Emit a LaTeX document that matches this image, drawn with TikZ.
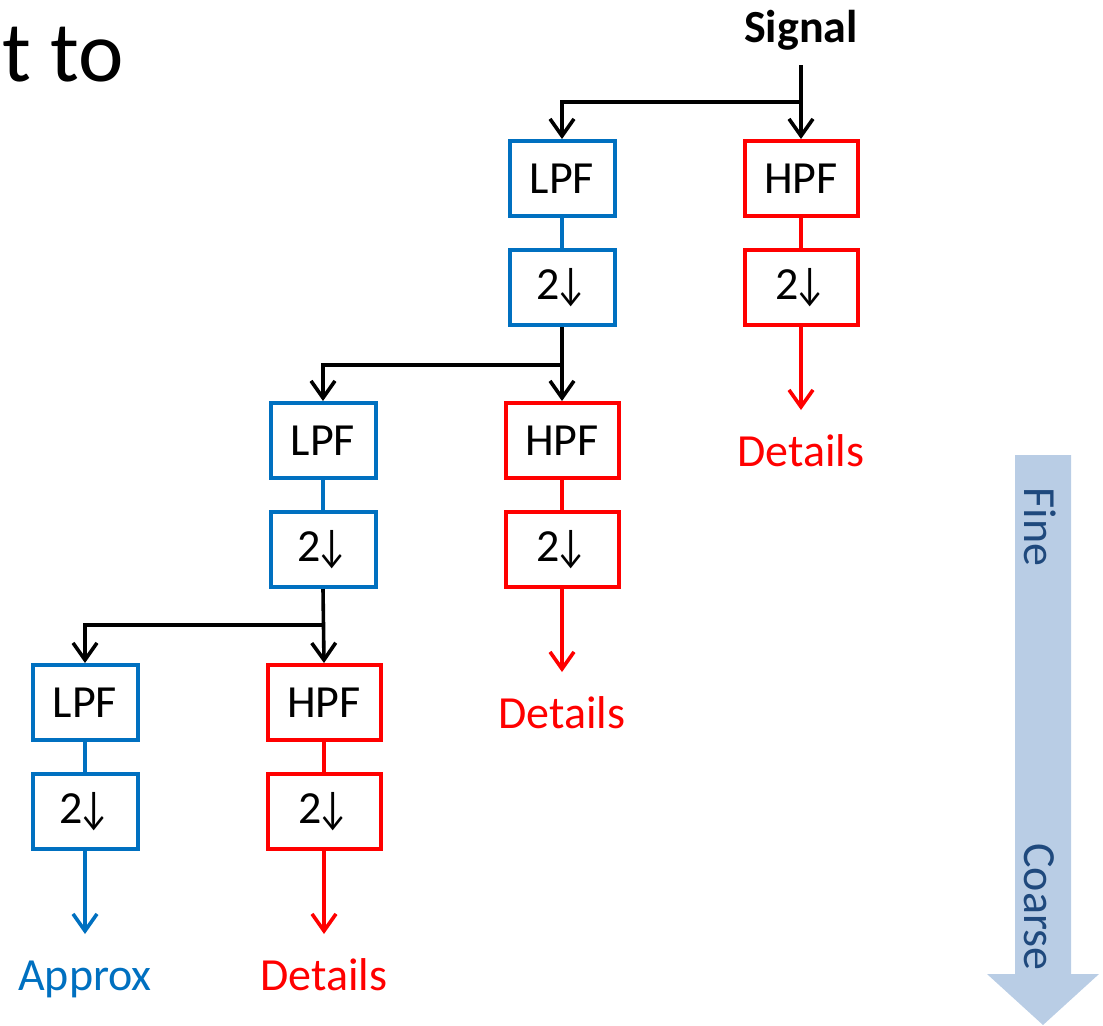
\documentclass[tikz,border=0pt]{standalone}
\usepackage{fontspec}
\usepackage{graphicx}
\setmainfont{Carlito}
\usetikzlibrary{arrows.meta}
\definecolor{lpfblue}{RGB}{0,112,192}
\definecolor{hpfred}{RGB}{255,0,0}
\definecolor{scalefill}{RGB}{185,205,229}
\definecolor{scaletext}{RGB}{31,73,125}
\newcommand{\downsample}{2\kern-3pt\scalebox{0.8}[1]{↓}}
\tikzset{
  lbl/.style={font=\fontsize{23}{28}\selectfont},
  box/.style={lbl, draw, line width=2pt, minimum height=37.5pt, inner sep=0pt, fill=white},
  lpfbox/.style={box, draw=lpfblue, minimum width=52.5pt},
  hpfbox/.style={box, draw=hpfred, minimum width=56.5pt},
  tip/.style={-{Straight Barb[length=8.5pt,width=12pt]}},
  split/.style={tip, line width=1.8pt, black},
  lowout/.style={tip, line width=1.8pt, lpfblue},
  highout/.style={tip, line width=1.8pt, hpfred},
  outlabel/.style={lbl, inner sep=0pt, text height=28pt, text depth=0pt, anchor=north},
  scalelabel/.style={font=\fontsize{23}{28}\selectfont, text=scaletext, inner sep=0pt, rotate=-90, anchor=base west}
}
\begin{document}
\begin{tikzpicture}[x=0.5pt,y=-0.5pt]
\path[use as bounding box] (0,0) rectangle (1103,1025);

% title fragment
\node[anchor=base west, inner sep=0pt, font=\fontsize{43}{50}\selectfont] (title) at (2,81) {t to};

% input
\node[lbl, font=\fontsize{23}{28}\selectfont\bfseries, anchor=base, inner sep=0pt] (sig) at (801,42) {Signal};
\coordinate (s0) at (801,65);
\coordinate (j1) at (801,102);

% level 1
\node[lpfbox] (l1) at (562,178.5) {LPF};
\node[lpfbox] (ld1) at (562,287.5) {\downsample};
\node[hpfbox] (h1) at (801,178.5) {HPF};
\node[hpfbox] (hd1) at (801,287.5) {\downsample};

% level 2
\node[lpfbox] (l2) at (323,440.5) {LPF};
\node[lpfbox] (ld2) at (323,549.5) {\downsample};
\node[hpfbox] (h2) at (562,440.5) {HPF};
\node[hpfbox] (hd2) at (562,549.5) {\downsample};

% level 3
\node[lpfbox] (l3) at (85,702.5) {LPF};
\node[lpfbox] (ld3) at (85,811.5) {\downsample};
\node[hpfbox] (h3) at (324,702.5) {HPF};
\node[hpfbox] (hd3) at (324,811.5) {\downsample};

% outputs
\node[outlabel, text=hpfred] (o1) at (801,410) {Details};
\node[outlabel, text=hpfred] (o2) at (562,672) {Details};
\node[outlabel, text=hpfred] (o3) at (324,934) {Details};
\node[outlabel, text=lpfblue] (a3) at (85,934) {Approx};

\coordinate (j2) at (562,365);
\coordinate (j3) at (323,625);

% filter to decimator links
\foreach \a/\b in {l1/ld1, l2/ld2, l3/ld3}
  \draw[lpfblue, line width=2pt] (\a.south) -- (\b.north);
\foreach \a/\b in {h1/hd1, h2/hd2, h3/hd3}
  \draw[hpfred, line width=2pt] (\a.south) -- (\b.north);

% splits
\draw[split] (s0) -- (h1.north);
\draw[split] (j1) -| (l1.north);
\draw[split] (ld1.south) -- (h2.north);
\draw[split] (j2) -| (l2.north);
\draw[split] (ld2.south) -- (h3.north);
\draw[split] (j3) -| (l3.north);

% outputs
\draw[highout] (hd1.south) -- (o1.north);
\draw[highout] (hd2.south) -- (o2.north);
\draw[highout] (hd3.south) -- (o3.north);
\draw[lowout] (ld3.south) -- (a3.north);

% scale arrow
\path[fill=scalefill] (1015,455) -- (1071,455) -- (1071,974) -- (1099,974)
  -- (1043,1025) -- (987,974) -- (1015,974) -- cycle;
\node[scalelabel] (fine) at (1024,487) {Fine};
\node[scalelabel] (coarse) at (1024,843) {Coarse};
\end{tikzpicture}
\end{document}
